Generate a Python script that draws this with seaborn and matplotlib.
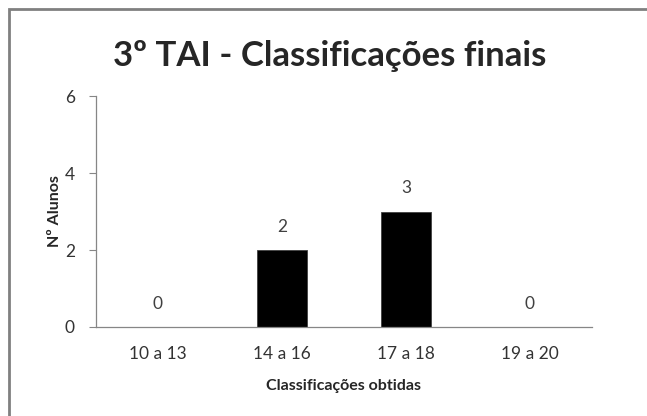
import matplotlib
matplotlib.use('Agg')
import matplotlib.pyplot as plt
import seaborn as sns
from matplotlib.patches import Rectangle

categorias = ['10 a 13', '14 a 16', '17 a 18', '19 a 20']
alunos = [0, 2, 3, 0]
yticks = [0, 2, 4, 6]

sns.set_style('white')
plt.rcParams['font.family'] = ['Lato', 'DejaVu Sans']

fig, ax = plt.subplots(figsize=(6.47, 4.16), dpi=100)
fig.subplots_adjust(left=0.148, right=0.915, top=0.769, bottom=0.214)

sns.barplot(x=categorias, y=alunos, color='black', width=0.4, saturation=1,
            edgecolor='#404040', linewidth=0.6, ax=ax)

# valores por cima das barras
for i, v in enumerate(alunos):
    ax.annotate(str(v), (i, v), xytext=(0, 11), textcoords='offset points',
                ha='center', va='bottom', fontsize=12.5, color='#404040')

ax.set_xlim(-0.5, 3.5)
ax.set_ylim(0, 6)
ax.set_yticks(yticks)
ax.set_xticks(range(len(categorias)))
ax.set_xticklabels(categorias)
ax.set_xticks([i - 0.5 for i in range(len(categorias) + 1)], minor=True)
ax.tick_params(axis='x', which='major', length=0, pad=14, labelsize=12.5, labelcolor='#333333')
ax.tick_params(axis='x', which='minor', length=5, width=0.8, color='#868686', direction='out')
ax.tick_params(axis='y', length=5, width=0.8, color='#868686', direction='out',
               pad=10, labelsize=12.5, labelcolor='#333333')
ax.tick_params(bottom=True, left=True)

for s in ['top', 'right']:
    ax.spines[s].set_visible(False)
for s in ['left', 'bottom']:
    ax.spines[s].set_color('#868686')
    ax.spines[s].set_linewidth(0.9)

ax.set_xlabel('Classificações obtidas', fontsize=11.5, fontweight='bold', labelpad=12)
ax.set_ylabel('Nº Alunos', fontsize=11.5, fontweight='bold')
ax.yaxis.set_label_coords(-0.068, 0.5)
fig.suptitle('3º TAI - Classificações finais', fontsize=25, fontweight='bold',
             x=0.51, y=0.905)

# moldura do gráfico (cortada à direita e em baixo)
fig.patches.append(Rectangle((8.5 / 647, -0.5), 1.5, 1.5 - 8.5 / 416,
                             transform=fig.transFigure, fill=False,
                             edgecolor='#808080', linewidth=2))

fig.savefig('out.png', dpi=100)
